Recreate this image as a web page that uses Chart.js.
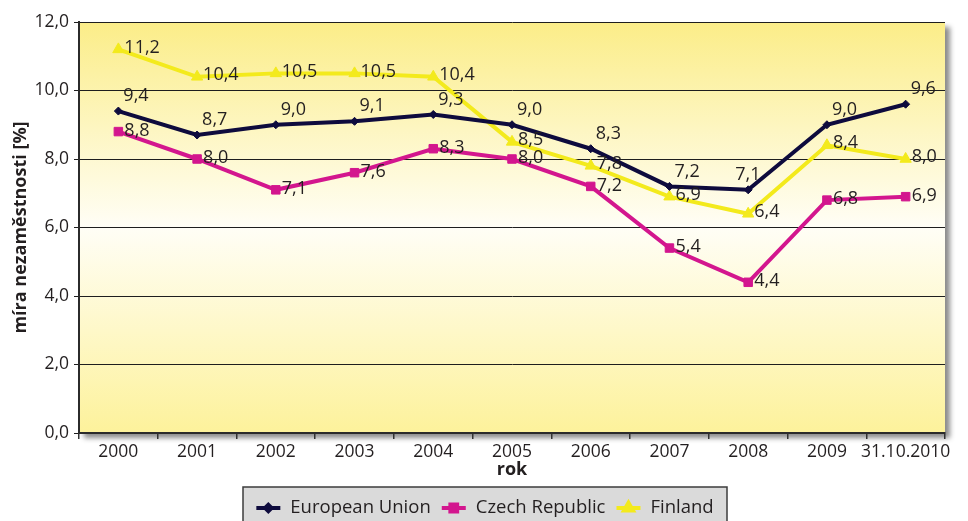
<!DOCTYPE html>
<html>
<head>
<meta charset="utf-8">
<script src="https://cdn.jsdelivr.net/npm/chart.js@4/dist/chart.umd.min.js"></script>
<style>
  html, body { margin: 0; padding: 0; background: #fff; }
  #wrap { width: 968px; height: 521px; }
</style>
</head>
<body>
<div id="wrap"><canvas id="chart" width="968" height="521"></canvas></div>
<script>
const years = ["2000", "2001", "2002", "2003", "2004", "2005", "2006", "2007", "2008", "2009", "31.10.2010"];
const euRate = [9.4, 8.7, 9.0, 9.1, 9.3, 9.0, 8.3, 7.2, 7.1, 9.0, 9.6];
const czRate = [8.8, 8.0, 7.1, 7.6, 8.3, 8.0, 7.2, 5.4, 4.4, 6.8, 6.9];
const fiRate = [11.2, 10.4, 10.5, 10.5, 10.4, 8.5, 7.8, 6.9, 6.4, 8.4, 8.0];
const yMin = 0, yMax = 12, yStep = 2;

const FONT = '"Open Sans", "Noto Sans", sans-serif';
const TEXT = "#231f20";

function fmt(v) {
    return v.toFixed(1).replace(".", ",");
}

// Plot background with gradient and drop shadow
const plotBackground = {
    id: "plotBackground",
    beforeDraw(chart) {
        const { ctx, chartArea: a } = chart;
        ctx.save();
        const g = ctx.createLinearGradient(0, a.top, 0, a.bottom);
        g.addColorStop(0, "#fbed88");
        g.addColorStop(0.5, "#fffef6");
        g.addColorStop(1, "#fdf29b");
        ctx.shadowColor = "rgba(0,0,0,0.45)";
        ctx.shadowBlur = 5;
        ctx.shadowOffsetX = 5;
        ctx.shadowOffsetY = 5;
        ctx.fillStyle = g;
        ctx.fillRect(a.left, a.top, a.right - a.left, a.bottom - a.top);
        ctx.restore();
    }
};

// Value labels next to each point
const valueLabels = {
    id: "valueLabels",
    afterDatasetsDraw(chart) {
        const ctx = chart.ctx;
        ctx.save();
        ctx.font = "18px " + FONT;
        ctx.fillStyle = TEXT;
        ctx.textBaseline = "middle";
        ctx.textAlign = "left";
        chart.data.datasets.forEach((ds, i) => {
            const meta = chart.getDatasetMeta(i);
            const shift = ds.labelShift || {};
            meta.data.forEach((pt, j) => {
                const dx = shift[j] !== undefined ? shift[j] : ds.labelDx;
                ctx.fillText(fmt(ds.data[j]), pt.x + dx, pt.y + ds.labelDy);
            });
        });
        ctx.restore();
    }
};

// Boxed legend at the bottom
const boxLegend = {
    id: "boxLegend",
    afterDraw(chart) {
        const ctx = chart.ctx;
        const sets = chart.data.datasets;
        ctx.save();
        ctx.font = "18.5px " + FONT;
        const sample = 24, gapIn = 10, gapOut = 11;
        let total = 0;
        sets.forEach((ds, i) => {
            total += sample + gapIn + ctx.measureText(ds.label).width;
            if (i < sets.length - 1) total += gapOut;
        });
        const boxX = 243, boxY = 487, boxW = 484, boxH = 40;
        ctx.fillStyle = "#dadada";
        ctx.fillRect(boxX, boxY, boxW, boxH);
        ctx.strokeStyle = "#3c3c3c";
        ctx.lineWidth = 1.5;
        ctx.strokeRect(boxX, boxY, boxW, boxH);
        let x = boxX + (boxW - total) / 2;
        const y = 508;
        sets.forEach((ds) => {
            ctx.strokeStyle = ds.borderColor;
            ctx.fillStyle = ds.borderColor;
            ctx.lineWidth = 4;
            ctx.beginPath();
            ctx.moveTo(x, y);
            ctx.lineTo(x + sample, y);
            ctx.stroke();
            Chart.helpers.drawPoint(ctx, {
                pointStyle: ds.pointStyle,
                radius: ds.pointRadius * 0.8,
                borderWidth: 1
            }, x + sample / 2, y);
            x += sample + gapIn;
            ctx.fillStyle = TEXT;
            ctx.textBaseline = "middle";
            ctx.fillText(ds.label, x, y);
            x += ctx.measureText(ds.label).width + gapOut;
        });
        ctx.restore();
    }
};

const ctx = document.getElementById("chart").getContext("2d");
new Chart(ctx, {
    type: "line",
    data: {
        labels: years,
        datasets: [
            {
                label: "European Union",
                data: euRate,
                borderColor: "#0e0b3d",
                backgroundColor: "#0e0b3d",
                borderWidth: 4,
                pointStyle: "rectRot",
                pointRadius: 4,
                pointBorderWidth: 1,
                labelDx: 5,
                labelDy: -15,
                labelShift: { 8: -13 }
            },
            {
                label: "Czech Republic",
                data: czRate,
                borderColor: "#d3168e",
                backgroundColor: "#d3168e",
                borderWidth: 4,
                pointStyle: "rect",
                pointRadius: 6,
                pointBorderWidth: 1,
                labelDx: 6,
                labelDy: -1
            },
            {
                label: "Finland",
                data: fiRate,
                borderColor: "#f3ea1c",
                backgroundColor: "#f3ea1c",
                borderWidth: 4,
                pointStyle: "triangle",
                pointRadius: 6.5,
                pointBorderWidth: 1,
                labelDx: 6,
                labelDy: -2
            }
        ]
    },
    options: {
        responsive: false,
        animation: false,
        layout: { padding: { left: 0, right: 23, top: 22, bottom: 40 } },
        plugins: {
            legend: { display: false },
            tooltip: { enabled: false }
        },
        elements: { line: { tension: 0 } },
        scales: {
            x: {
                offset: true,
                afterFit(scale) { scale.height = 48; },
                grid: {
                    offset: true,
                    drawOnChartArea: false,
                    color: "#333",
                    lineWidth: 1.5,
                    tickLength: 6
                },
                border: { color: "#2b2b2b", width: 2 },
                ticks: { color: TEXT, font: { family: FONT, size: 17.5 }, padding: 3, maxRotation: 0, autoSkip: false },
                title: {
                    display: true,
                    text: "rok",
                    color: TEXT,
                    font: { family: FONT, size: 18, weight: "bold" },
                    padding: { top: 0, bottom: 0 }
                }
            },
            y: {
                min: yMin,
                max: yMax,
                afterFit(scale) { scale.width = 79; },
                grid: { color: "#1e1e1e", lineWidth: 1, tickLength: 5 },
                border: { color: "#2b2b2b", width: 2 },
                ticks: {
                    stepSize: yStep,
                    color: TEXT,
                    font: { family: FONT, size: 17.5 },
                    padding: 5,
                    callback: (v) => fmt(v)
                },
                title: {
                    display: true,
                    text: "míra nezaměstnosti [%]",
                    color: TEXT,
                    font: { family: FONT, size: 18, weight: "bold" },
                    padding: { top: 10, bottom: 10 }
                }
            }
        }
    },
    plugins: [plotBackground, valueLabels, boxLegend]
});
</script>
</body>
</html>
